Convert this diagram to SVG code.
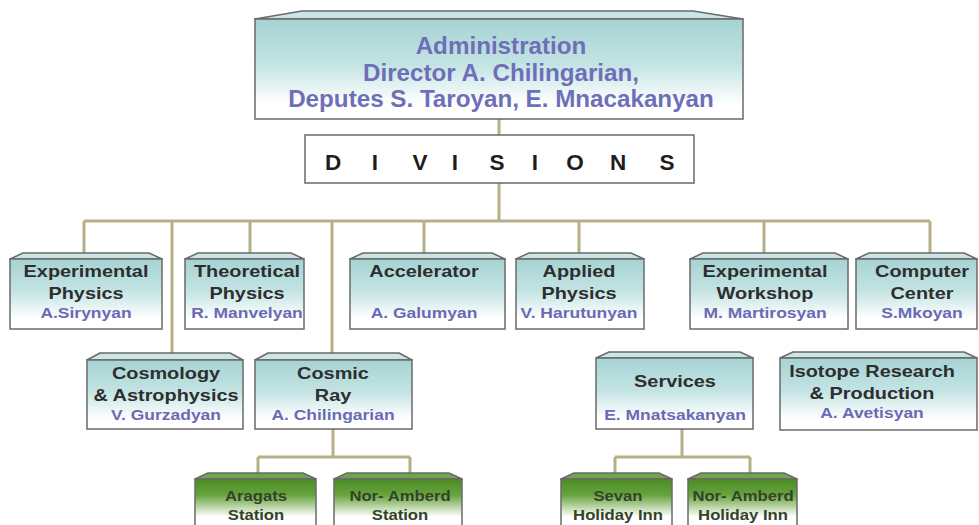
<svg xmlns="http://www.w3.org/2000/svg" width="979" height="525" viewBox="0 0 979 525">
<defs>
<linearGradient id="teal" x1="0" y1="0" x2="0" y2="1">
<stop offset="0" stop-color="#a6d3d3"/>
<stop offset="0.45" stop-color="#c3e3e3"/>
<stop offset="0.85" stop-color="#ffffff"/>
</linearGradient>
<linearGradient id="green" x1="0" y1="479" x2="0" y2="525" gradientUnits="userSpaceOnUse">
<stop offset="0" stop-color="#4a8a24"/>
<stop offset="0.35" stop-color="#68a43e"/>
<stop offset="0.82" stop-color="#ffffff"/>
</linearGradient>
</defs>
<style>
.box{fill:url(#teal);stroke:#6a6a6a;stroke-width:1.5}
.bev{fill:#cbe6e6;stroke:#6a6a6a;stroke-width:1.5;stroke-linejoin:round}
.gbox{fill:url(#green);stroke:#6a6a6a;stroke-width:1.5}
.gbev{fill:#6fa648;stroke:#6a6a6a;stroke-width:1.5;stroke-linejoin:round}
.conn{fill:none;stroke:#b5b087;stroke-width:3}
text{font-family:"Liberation Sans",Arial,sans-serif;font-weight:bold;text-anchor:middle}
.t{font-size:17.3px;fill:#2e2e2e}
.n{font-size:15.2px;fill:#6a6ab4}
.g{font-size:14.5px;fill:#33432a}
.a{font-size:24.2px;fill:#6e6fb8}
.d{font-size:22.5px;fill:#1e1e1e}
</style>
<rect width="979" height="525" fill="#ffffff"/>
<g id="connectors">
<path class="conn" d="M499 119V135M499 183V221M84 221H930M84 221V253M172 221V353M250 221V253M332 221V353M424 221V253M579 221V253M764 221V253M930 221V253"/>
<path class="conn" d="M333 429V457M258 457H410M258 457V473M410 457V473"/>
<path class="conn" d="M682 429V457M615 457H750M615 457V473M750 457V473"/>
</g>
<g id="administration">
<polygon class="bev" points="255,19 302,11 693,11 743,19"/>
<rect class="box" x="255" y="19" width="488" height="100"/>
<text class="a" x="501" y="54">Administration</text>
<text class="a" x="501" y="81">Director A. Chilingarian,</text>
<text class="a" x="501" y="107">Deputes S. Taroyan, E. Mnacakanyan</text>
</g>
<g id="divisions">
<rect x="305" y="135" width="389" height="48" fill="#ffffff" stroke="#6a6a6a" stroke-width="1.5"/>
<text class="d" x="333 375 420 455 497 535 575 618 667" y="170">DIVISIONS</text>
</g>
<g id="experimental-physics">
<polygon class="bev" points="10,259 23,253 149,253 162,259"/>
<rect class="box" x="10" y="259" width="152" height="70"/>
<g transform="translate(86 0) scale(1.15 1)">
<text class="t" x="0" y="277">Experimental</text>
<text class="t" x="0" y="299">Physics</text>
<text class="n" x="0" y="318">A.Sirynyan</text>
</g>
</g>
<g id="theoretical-physics">
<polygon class="bev" points="185,259 198,253 291,253 304,259"/>
<rect class="box" x="185" y="259" width="119" height="70"/>
<g transform="translate(247 0) scale(1.15 1)">
<text class="t" x="0" y="277">Theoretical</text>
<text class="t" x="0" y="299">Physics</text>
<text class="n" x="0" y="318">R. Manvelyan</text>
</g>
</g>
<g id="accelerator">
<polygon class="bev" points="350,259 363,253 492,253 505,259"/>
<rect class="box" x="350" y="259" width="155" height="70"/>
<g transform="translate(424 0) scale(1.15 1)">
<text class="t" x="0" y="277">Accelerator</text>
<text class="n" x="0" y="318">A. Galumyan</text>
</g>
</g>
<g id="applied-physics">
<polygon class="bev" points="516,259 529,253 631,253 644,259"/>
<rect class="box" x="516" y="259" width="128" height="70"/>
<g transform="translate(579 0) scale(1.15 1)">
<text class="t" x="0" y="277">Applied</text>
<text class="t" x="0" y="299">Physics</text>
<text class="n" x="0" y="318">V. Harutunyan</text>
</g>
</g>
<g id="experimental-workshop">
<polygon class="bev" points="690,259 703,253 835,253 848,259"/>
<rect class="box" x="690" y="259" width="158" height="70"/>
<g transform="translate(765 0) scale(1.15 1)">
<text class="t" x="0" y="277">Experimental</text>
<text class="t" x="0" y="299">Workshop</text>
<text class="n" x="0" y="318">M. Martirosyan</text>
</g>
</g>
<g id="computer-center">
<polygon class="bev" points="856,259 869,253 964,253 977,259"/>
<rect class="box" x="856" y="259" width="121" height="70"/>
<g transform="translate(922 0) scale(1.15 1)">
<text class="t" x="0" y="277">Computer</text>
<text class="t" x="0" y="299">Center</text>
<text class="n" x="0" y="318">S.Mkoyan</text>
</g>
</g>
<g id="cosmology">
<polygon class="bev" points="87,360 100,353 230,353 243,360"/>
<rect class="box" x="87" y="360" width="156" height="69"/>
<g transform="translate(166 0) scale(1.15 1)">
<text class="t" x="0" y="379">Cosmology</text>
<text class="t" x="0" y="401">&amp; Astrophysics</text>
<text class="n" x="0" y="420">V. Gurzadyan</text>
</g>
</g>
<g id="cosmic-ray">
<polygon class="bev" points="255,360 268,353 399,353 412,360"/>
<rect class="box" x="255" y="360" width="157" height="69"/>
<g transform="translate(333 0) scale(1.15 1)">
<text class="t" x="0" y="379">Cosmic</text>
<text class="t" x="0" y="401">Ray</text>
<text class="n" x="0" y="420">A. Chilingarian</text>
</g>
</g>
<g id="services">
<polygon class="bev" points="596,358 609,352 740,352 753,358"/>
<rect class="box" x="596" y="358" width="157" height="71"/>
<g transform="translate(675 0) scale(1.15 1)">
<text class="t" x="0" y="387">Services</text>
<text class="n" x="0" y="420">E. Mnatsakanyan</text>
</g>
</g>
<g id="isotope">
<polygon class="bev" points="780,358 793,352 964,352 977,358"/>
<rect class="box" x="780" y="358" width="197" height="72"/>
<g transform="translate(872 0) scale(1.15 1)">
<text class="t" x="0" y="377">Isotope Research</text>
<text class="t" x="0" y="399">&amp; Production</text>
<text class="n" x="0" y="418">A. Avetisyan</text>
</g>
</g>
<g id="aragats-station">
<polygon class="gbev" points="195,479 208,473 303,473 316,479"/>
<rect class="gbox" x="195" y="479" width="121" height="60"/>
<g transform="translate(256 0) scale(1.15 1)">
<text class="g" x="0" y="501">Aragats</text>
<text class="g" x="0" y="520">Station</text>
</g>
</g>
<g id="nor-amberd-station">
<polygon class="gbev" points="334,479 347,473 449,473 462,479"/>
<rect class="gbox" x="334" y="479" width="128" height="60"/>
<g transform="translate(400 0) scale(1.15 1)">
<text class="g" x="0" y="501">Nor- Amberd</text>
<text class="g" x="0" y="520">Station</text>
</g>
</g>
<g id="sevan-holiday-inn">
<polygon class="gbev" points="561,479 574,473 659,473 672,479"/>
<rect class="gbox" x="561" y="479" width="111" height="60"/>
<g transform="translate(618 0) scale(1.15 1)">
<text class="g" x="0" y="501">Sevan</text>
<text class="g" x="0" y="520">Holiday Inn</text>
</g>
</g>
<g id="nor-amberd-holiday-inn">
<polygon class="gbev" points="688,479 701,473 784,473 797,479"/>
<rect class="gbox" x="688" y="479" width="109" height="60"/>
<g transform="translate(743 0) scale(1.15 1)">
<text class="g" x="0" y="501">Nor- Amberd</text>
<text class="g" x="0" y="520">Holiday Inn</text>
</g>
</g>
</svg>
